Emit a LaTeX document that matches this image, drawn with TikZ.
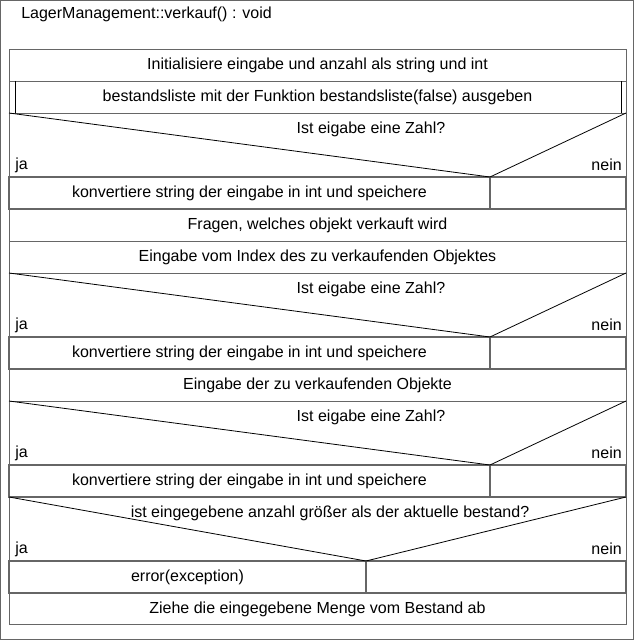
\documentclass[tikz,border=0pt]{standalone}
\usepackage{fontspec}
\setmainfont{Liberation Sans}
\definecolor{rahmengrau}{RGB}{102,102,102}
\begin{document}
\begin{tikzpicture}[x=0.75pt,y=-0.75pt,
    rahmen/.style={draw=rahmengrau, line width=0.75pt},
    zweig/.style={draw=rahmengrau, line width=0.9pt},
    diag/.style={draw=black, line width=0.6pt},
    txt/.style={font=\fontsize{12}{14}\selectfont, inner sep=0pt}]
\useasboundingbox (0,0) rectangle (634,640);
\draw[rahmen] (0.5,0.5) rectangle (633,639);
\node[txt, anchor=west] (titel) at (21,14) {LagerManagement::verkauf() : void};
\foreach \oben/\unten in {49/81,81/113,113/177,209/241,241/273,273/337,369/401,401/465,497/561,593/624}
    \draw[rahmen] (9,\oben) rectangle (626,\unten);
\foreach \oben/\unten/\teil in {177/209/490,337/369/490,465/497/490,561/593/366}
    \draw[zweig] (9,\oben) rectangle (626,\unten) (\teil,\oben) -- (\teil,\unten);
\draw[black, line width=0.75pt] (15,81) -- (15,113) (621,81) -- (621,113);
\foreach \oben/\unten/\spitze in {113/177/490,273/337/490,401/465/490,497/561/366}
    \draw[diag] (9,\oben) -- (\spitze,\unten) -- (626,\oben);
\node[txt] (init) at (317.5,65) {Initialisiere eingabe und anzahl als string und int};
\node[txt] (liste) at (317.5,97) {bestandsliste mit der Funktion bestandsliste(false) ausgeben};
\node[txt] (frage1) at (371,129) {Ist eigabe eine Zahl?};
\node[txt, anchor=west] (ja1) at (15,165) {ja};
\node[txt, anchor=east] (nein1) at (622,165) {nein};
\node[txt] (konv1) at (249.5,193) {konvertiere string der eingabe in int und speichere};
\node[txt] (fragen) at (317.5,225) {Fragen, welches objekt verkauft wird};
\node[txt] (index) at (317.5,257) {Eingabe vom Index des zu verkaufenden Objektes};
\node[txt] (frage2) at (371,289) {Ist eigabe eine Zahl?};
\node[txt, anchor=west] (ja2) at (15,325) {ja};
\node[txt, anchor=east] (nein2) at (622,325) {nein};
\node[txt] (konv2) at (249.5,353) {konvertiere string der eingabe in int und speichere};
\node[txt] (objekte) at (317.5,385) {Eingabe der zu verkaufenden Objekte};
\node[txt] (frage3) at (371,417) {Ist eigabe eine Zahl?};
\node[txt, anchor=west] (ja3) at (15,453) {ja};
\node[txt, anchor=east] (nein3) at (622,453) {nein};
\node[txt] (konv3) at (249.5,481) {konvertiere string der eingabe in int und speichere};
\node[txt] (frage4) at (330,513) {ist eingegebene anzahl größer als der aktuelle bestand?};
\node[txt, anchor=west] (ja4) at (15,549) {ja};
\node[txt, anchor=east] (nein4) at (622,549) {nein};
\node[txt] (fehler) at (187.5,577) {error(exception)};
\node[txt] (abziehen) at (317.5,609) {Ziehe die eingegebene Menge vom Bestand ab};
\end{tikzpicture}
\end{document}
